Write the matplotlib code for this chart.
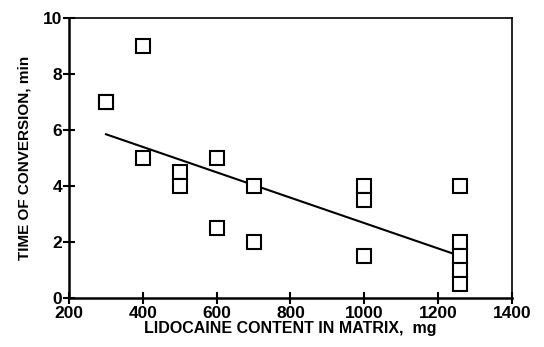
import numpy as np
import matplotlib
matplotlib.use("Agg")
import matplotlib.pyplot as plt

plt.rcParams['font.family'] = ['Liberation Sans', 'DejaVu Sans']
plt.rcParams['font.weight'] = 'bold'

# lidocaine content (mg) and time of conversion (min)
lido = [300, 300, 400, 400, 500, 500, 600, 600, 700, 700,
        1000, 1000, 1000, 1260, 1260, 1260, 1260, 1260]
conv = [7, 7, 9, 5, 4.5, 4, 5, 2.5, 4, 2,
        4, 3.5, 1.5, 4, 2, 1.5, 1, 0.5]

# regression line end points
fit_x = [300, 1260]
fit_y = [5.85, 1.5]

xticks = [200, 400, 600, 800, 1000, 1200, 1400]
yticks = [0, 2, 4, 6, 8, 10]

fig = plt.figure(figsize=(5.44, 3.47), dpi=100)
ax = fig.add_axes([0.127, 0.141, 0.814, 0.807])

ax.plot(lido, conv, 's', mfc='white', mec='black', ms=10, mew=1.5, zorder=3)
ax.plot(fit_x, fit_y, '-', color='black', lw=1.5, zorder=2)

ax.set_xlim(200, 1400)
ax.set_ylim(0, 10)
ax.set_xticks(xticks)
ax.set_yticks(yticks)
ax.tick_params(direction='inout', length=8, width=1.5, labelsize=12.5)
ax.tick_params(axis='x', pad=2)
ax.tick_params(axis='y', pad=1)
for lab in ax.get_xticklabels() + ax.get_yticklabels():
    lab.set_fontweight('bold')

for s in ['left', 'bottom']:
    ax.spines[s].set_linewidth(1.8)
for s in ['top', 'right']:
    ax.spines[s].set_linewidth(1.2)

ax.set_xlabel('LIDOCAINE CONTENT IN MATRIX,  mg', fontsize=11.5, fontweight='bold', labelpad=0)
ax.set_ylabel('TIME OF CONVERSION, min', fontsize=11, fontweight='bold', labelpad=8)

plt.savefig('out.png', dpi=100)
